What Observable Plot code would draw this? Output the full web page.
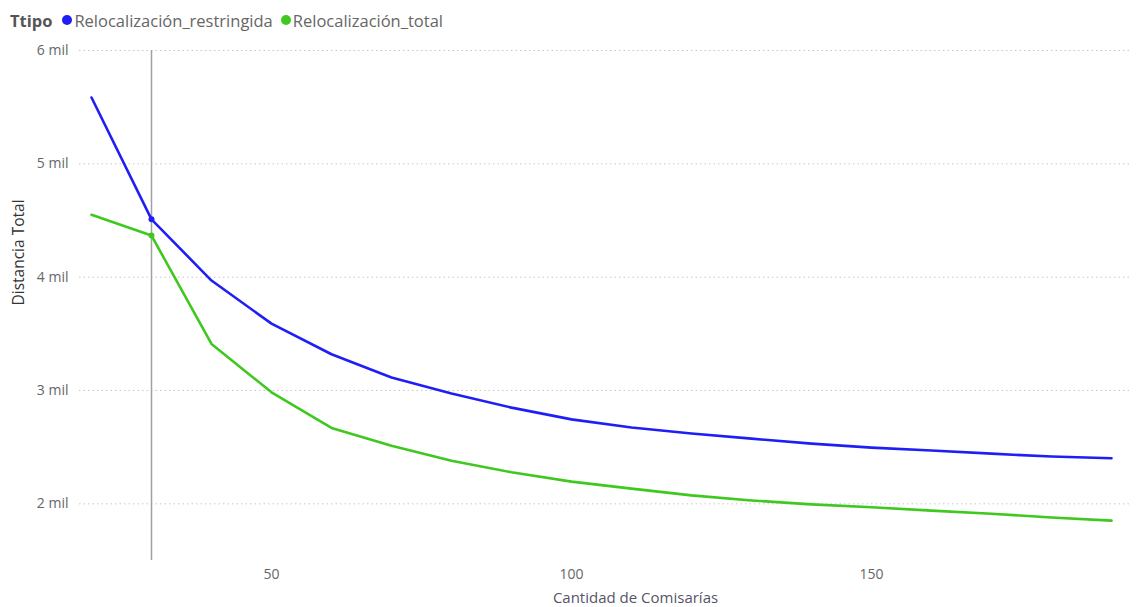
<!DOCTYPE html>
<html>
<head>
<meta charset="utf-8">
<script src="https://cdn.jsdelivr.net/npm/d3@7"></script>
<script src="https://cdn.jsdelivr.net/npm/@observablehq/plot@0.6"></script>
<style>
  body { margin: 0; background: #fff; font-family: "Open Sans", "DejaVu Sans", sans-serif; }
  #legend { box-sizing: border-box; height: 36px; padding-top: 4px; display: flex; align-items: center; padding-left: 10px; font-size: 16.5px; color: #666; white-space: nowrap; }
  #legend b { color: #555; margin-right: 10px; }
  #legend .sw { display: inline-block; width: 10px; height: 10px; border-radius: 50%; margin-right: 2px; }
  #legend .item { display: inline-flex; align-items: center; margin-right: 8px; }
</style>
</head>
<body>
<div id="legend"></div>
<div id="chart"></div>
<script>
// Distancia total según la cantidad de comisarías
const comisarias = [20, 30, 40, 50, 60, 70, 80, 90, 100, 110, 120, 130, 140, 150, 160, 170, 180, 190];
const restringida = [5585, 4510, 3970, 3590, 3320, 3114, 2973, 2849, 2745, 2673, 2620, 2575, 2531, 2496, 2470, 2443, 2417, 2402];
const total = [4550, 4367, 3411, 2984, 2670, 2512, 2381, 2278, 2196, 2134, 2075, 2030, 1995, 1970, 1940, 1913, 1880, 1852];
const series = ["Relocalización_restringida", "Relocalización_total"];
const colors = ["#1f1ff5", "#3fc81f"];
const yTicks = [2000, 3000, 4000, 5000, 6000];
const xTicks = [50, 100, 150];
const selected = 30;

const rows = [
  ...comisarias.map((c, i) => ({ tipo: series[0], c, v: restringida[i] })),
  ...comisarias.map((c, i) => ({ tipo: series[1], c, v: total[i] }))
];
const marked = rows.filter(d => d.c === selected);

// Leyenda
const legend = document.getElementById("legend");
legend.innerHTML = "<b>Ttipo</b>" + series.map((s, i) =>
  `<span class="item"><span class="sw" style="background:${colors[i]}"></span>${s}</span>`).join("");

const chart = Plot.plot({
  width: 1138,
  height: 571,
  marginTop: 14,
  marginBottom: 47,
  marginLeft: 79,
  marginRight: 9,
  style: { fontFamily: "'Open Sans', 'DejaVu Sans', sans-serif", fontSize: "14px", color: "#666" },
  x: { domain: [18, 193] },
  y: { domain: [1500, 6000] },
  color: { domain: series, range: colors },
  marks: [
    Plot.gridY(yTicks, { stroke: "#c8c8c8", strokeOpacity: 1, strokeDasharray: "1.5,3" }),
    Plot.axisY(yTicks, { tickSize: 0, tickPadding: 11, tickFormat: d => `${d / 1000} mil`, label: null, fill: "#666", fontSize: 14 }),
    Plot.axisX(xTicks, { tickSize: 0, tickPadding: 9, label: null, fill: "#666", fontSize: 14 }),
    Plot.ruleX([selected], { stroke: "#a0a0a0", strokeWidth: 1.5 }),
    Plot.line(rows, { x: "c", y: "v", z: "tipo", stroke: "tipo", strokeWidth: 2.6 }),
    Plot.dot(marked, { x: "c", y: "v", fill: "tipo", r: 3 }),
    Plot.text(["Cantidad de Comisarías"], { frameAnchor: "bottom", dx: 31, dy: 42, fill: "#556", fontSize: 15 }),
    Plot.text(["Distancia Total"], { frameAnchor: "left", rotate: -90, dx: -60, fill: "#333", fontSize: 15.5 })
  ]
});
document.getElementById("chart").appendChild(chart);
</script>
</body>
</html>
